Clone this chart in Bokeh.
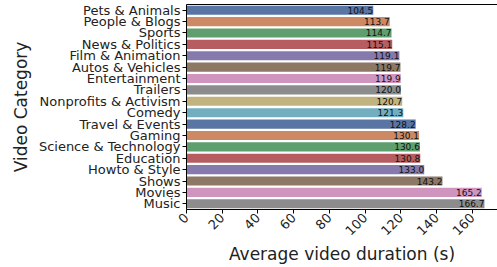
import math
from bokeh.plotting import figure
from bokeh.models import ColumnDataSource, FactorRange, Range1d, LinearAxis, FixedTicker
from bokeh.core.properties import value
from bokeh.embed import file_html
from bokeh.resources import INLINE

categories = ["Pets & Animals", "People & Blogs", "Sports", "News & Politics",
              "Film & Animation", "Autos & Vehicles", "Entertainment", "Trailers",
              "Nonprofits & Activism", "Comedy", "Travel & Events", "Gaming",
              "Science & Technology", "Education", "Howto & Style", "Shows",
              "Movies", "Music"]
durations = [104.5, 113.7, 114.7, 115.1, 119.1, 119.7, 119.9, 120.0, 120.7,
             121.3, 128.2, 130.1, 130.6, 130.8, 133.0, 143.2, 165.2, 166.7]
x_ticks = [0, 20, 40, 60, 80, 100, 120, 140, 160]

palette = ["#5975a4", "#cc8963", "#5f9e6e", "#b55d60", "#857aab",
           "#8d7866", "#d095bf", "#8c8c8c", "#c1b37f", "#71aec0"]
colors = [palette[i % len(palette)] for i in range(len(categories))]
labels = ["%.1f" % v for v in durations]

src = ColumnDataSource(dict(cat=categories, val=durations, color=colors, label=labels))

FONT = "DejaVu Sans"
p = figure(width=497, height=267, output_backend="svg", toolbar_location=None,
           y_range=FactorRange(factors=categories[::-1]),
           x_range=Range1d(0, 174),
           min_border_left=186, min_border_right=0, min_border_top=4, min_border_bottom=10)
p.outline_line_color = None
p.xgrid.visible = False
p.ygrid.visible = False

p.hbar(y="cat", right="val", left=0, height=0.8, color="color", line_color=None, source=src)
p.text(x="val", y="cat", text="label", source=src, text_align="right",
       text_baseline="middle", text_font=value(FONT), text_font_size="9px",
       text_color="#111111")

xa = p.xaxis[0]
xa.ticker = FixedTicker(ticks=x_ticks)
xa.minor_tick_line_color = None
xa.major_tick_out = 4
xa.major_tick_in = 0
xa.major_label_standoff = 2
xa.major_label_orientation = math.pi / 4
xa.major_label_text_font = FONT
xa.major_label_text_font_size = "13px"
xa.major_label_text_color = "#222222"
xa.axis_label = "Average video duration (s)"
xa.axis_label_standoff = 2
xa.axis_label_text_font = FONT
xa.axis_label_text_font_size = "17px"
xa.axis_label_text_font_style = "normal"
xa.axis_label_text_color = "#222222"
xa.axis_line_color = "black"

ya = p.yaxis[0]
ya.major_tick_out = 4
ya.major_tick_in = 0
ya.major_label_standoff = 2
ya.major_label_text_font = FONT
ya.major_label_text_font_size = "13px"
ya.major_label_text_color = "#222222"
ya.axis_label = "Video Category"
ya.axis_label_text_font = FONT
ya.axis_label_text_font_size = "17px"
ya.axis_label_text_font_style = "normal"
ya.axis_label_text_color = "#222222"
ya.axis_line_color = "black"

top = LinearAxis(ticker=FixedTicker(ticks=[]), major_tick_line_color=None,
                 minor_tick_line_color=None, axis_line_color="black")
p.add_layout(top, "above")

open("out.html", "w").write(file_html(p, INLINE))
